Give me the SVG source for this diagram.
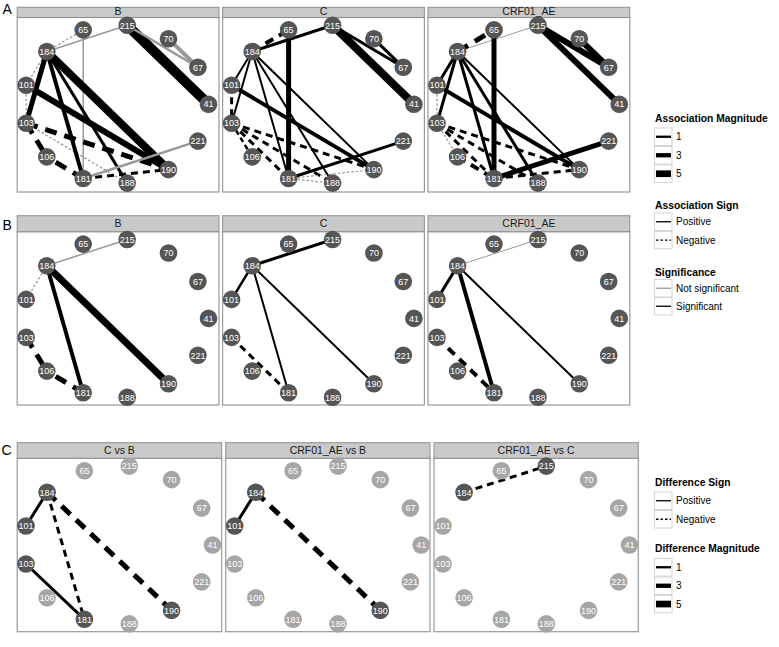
<svg xmlns="http://www.w3.org/2000/svg" width="779" height="647" viewBox="0 0 779 647">
<style>
.n circle{fill:#555}
.n.l circle{fill:#a6a6a6}
.n text{font-family:"Liberation Sans",Arial,sans-serif;font-size:9px;fill:#fff;text-anchor:middle}
.e line{fill:none;stroke-linecap:butt}
.k{stroke:#000}.g{stroke:#999}
.d1{stroke-dasharray:2.5 2}.d2{stroke-dasharray:5 3.5}.d3{stroke-dasharray:7 5}.d4{stroke-dasharray:9 6.5}.d5{stroke-dasharray:12 8}
.strip{fill:#c9c9c9;stroke:#8f8f8f;stroke-width:1}
.body{fill:#fff;stroke:#9a9a9a;stroke-width:1.2}
.st{font-family:"Liberation Sans",Arial,sans-serif;font-size:10.5px;text-anchor:middle;fill:#1a1a1a}
.tag{font-family:"Liberation Sans",Arial,sans-serif;font-size:14px;fill:#000}
.lt{font-family:"Liberation Sans",Arial,sans-serif;font-weight:bold;font-size:10.3px;fill:#000}
.ll{font-family:"Liberation Sans",Arial,sans-serif;font-size:10px;fill:#000}
.key{fill:#fff;stroke:#d4d4d4;stroke-width:1}
</style>
<rect width="779" height="647" fill="#fff"/>

<!-- tags -->
<text class="tag" x="2.5" y="13.5">A</text>
<text class="tag" x="2.5" y="229.5">B</text>
<text class="tag" x="1.5" y="455">C</text>

<g id="frames">
<rect class="body" x="17.2" y="17.5" width="201.8" height="174.5"/>
<rect class="strip" x="17.2" y="7.3" width="201.8" height="10.2"/>
<text class="st" x="118.1" y="15">B</text>
<rect class="body" x="222.6" y="17.5" width="201.8" height="174.5"/>
<rect class="strip" x="222.6" y="7.3" width="201.8" height="10.2"/>
<text class="st" x="323.5" y="15">C</text>
<rect class="body" x="428" y="17.5" width="201.8" height="174.5"/>
<rect class="strip" x="428" y="7.3" width="201.8" height="10.2"/>
<text class="st" x="528.9" y="15">CRF01_AE</text>

<rect class="body" x="17.2" y="231.7" width="201.8" height="173.3"/>
<rect class="strip" x="17.2" y="215.7" width="201.8" height="16"/>
<text class="st" x="118.1" y="227.3">B</text>
<rect class="body" x="222.6" y="231.7" width="201.8" height="173.3"/>
<rect class="strip" x="222.6" y="215.7" width="201.8" height="16"/>
<text class="st" x="323.5" y="227.3">C</text>
<rect class="body" x="428" y="231.7" width="201.8" height="173.3"/>
<rect class="strip" x="428" y="215.7" width="201.8" height="16"/>
<text class="st" x="528.9" y="227.3">CRF01_AE</text>

<rect class="body" x="17.2" y="458.3" width="204.5" height="173.4"/>
<rect class="strip" x="17.2" y="442.7" width="204.5" height="15.6"/>
<text class="st" x="119.4" y="454">C vs B</text>
<rect class="body" x="225.7" y="458.3" width="204.3" height="173.4"/>
<rect class="strip" x="225.7" y="442.7" width="204.3" height="15.6"/>
<text class="st" x="327.9" y="454">CRF01_AE vs B</text>
<rect class="body" x="434" y="458.3" width="204.3" height="173.4"/>
<rect class="strip" x="434" y="442.7" width="204.3" height="15.6"/>
<text class="st" x="536.1" y="454">CRF01_AE vs C</text>
</g>

<!-- Row A, panel B -->
<g transform="translate(116,104.2)">
<g id="edges-A-B" class="e">
<line class="g" stroke-width="1.5" x1="-69.2" y1="-52.7" x2="11.2" y2="-78.9"/>
<line class="g" stroke-width="1.5" x1="-32.8" y1="-74.3" x2="-32.8" y2="74.3"/>
<line class="k" stroke-width="10" x1="11.2" y1="-78.9" x2="92.5" y2="0"/>
<line class="g" stroke-width="2.5" x1="11.2" y1="-78.9" x2="81.9" y2="-36.9"/>
<line class="g" stroke-width="4" x1="52.5" y1="-65.4" x2="81.9" y2="-36.9"/>
<line class="g d1" stroke-width="1.3" x1="-69.2" y1="-52.7" x2="-32.8" y2="-74.3"/>
<line class="g d1" stroke-width="1.3" x1="-69.2" y1="-52.7" x2="-89.8" y2="-19"/>
<line class="g d1" stroke-width="1.3" x1="-89.8" y1="-19" x2="-89.8" y2="19"/>
<line class="g d1" stroke-width="1.3" x1="-89.8" y1="19" x2="11.2" y2="78.9"/>
<line class="k" stroke-width="5" x1="-69.2" y1="-52.7" x2="-89.8" y2="19"/>
<line class="k" stroke-width="4" x1="-69.2" y1="-52.7" x2="-32.8" y2="74.3"/>
<line class="k" stroke-width="3" x1="-69.2" y1="-52.7" x2="11.2" y2="78.9"/>
<line class="k" stroke-width="8" x1="-69.2" y1="-52.7" x2="52.5" y2="65.4"/>
<line class="k" stroke-width="6" x1="-89.8" y1="-19" x2="52.5" y2="65.4"/>
<line class="k d5" stroke-width="5" x1="-89.8" y1="19" x2="52.5" y2="65.4"/>
<line class="k d5" stroke-width="5" x1="-89.8" y1="19" x2="-69.2" y2="52.7"/>
<line class="k d5" stroke-width="5" x1="-32.8" y1="74.3" x2="-69.2" y2="52.7"/>
<line class="k d3" stroke-width="3" x1="-32.8" y1="74.3" x2="52.5" y2="65.4"/>
<line class="g" stroke-width="2.5" x1="-32.8" y1="74.3" x2="81.9" y2="36.9"/>
</g>
<g id="A-B-41" class="n" transform="translate(92.5,0)"><circle r="8.8"/><text y="3.2">41</text></g>
<g id="A-B-67" class="n" transform="translate(81.9,-36.9)"><circle r="8.8"/><text y="3.2">67</text></g>
<g id="A-B-70" class="n" transform="translate(52.5,-65.4)"><circle r="8.8"/><text y="3.2">70</text></g>
<g id="A-B-215" class="n" transform="translate(11.2,-78.9)"><circle r="8.8"/><text y="3.2">215</text></g>
<g id="A-B-65" class="n" transform="translate(-32.8,-74.3)"><circle r="8.8"/><text y="3.2">65</text></g>
<g id="A-B-184" class="n" transform="translate(-69.2,-52.7)"><circle r="8.8"/><text y="3.2">184</text></g>
<g id="A-B-101" class="n" transform="translate(-89.8,-19)"><circle r="8.8"/><text y="3.2">101</text></g>
<g id="A-B-103" class="n" transform="translate(-89.8,19)"><circle r="8.8"/><text y="3.2">103</text></g>
<g id="A-B-106" class="n" transform="translate(-69.2,52.7)"><circle r="8.8"/><text y="3.2">106</text></g>
<g id="A-B-181" class="n" transform="translate(-32.8,74.3)"><circle r="8.8"/><text y="3.2">181</text></g>
<g id="A-B-188" class="n" transform="translate(11.2,78.9)"><circle r="8.8"/><text y="3.2">188</text></g>
<g id="A-B-190" class="n" transform="translate(52.5,65.4)"><circle r="8.8"/><text y="3.2">190</text></g>
<g id="A-B-221" class="n" transform="translate(81.9,36.9)"><circle r="8.8"/><text y="3.2">221</text></g>
</g>

<!-- Row A, panel C -->
<g transform="translate(321.4,104.2)">
<g id="edges-A-C" class="e">
<line class="k" stroke-width="3" x1="-69.2" y1="-52.7" x2="11.2" y2="-78.9"/>
<line class="k d4" stroke-width="4" x1="-69.2" y1="-52.7" x2="-32.8" y2="-74.3"/>
<line class="k" stroke-width="5" x1="-32.8" y1="-74.3" x2="-32.8" y2="74.3"/>
<line class="k" stroke-width="8" x1="11.2" y1="-78.9" x2="92.5" y2="0"/>
<line class="k" stroke-width="3" x1="11.2" y1="-78.9" x2="81.9" y2="-36.9"/>
<line class="k" stroke-width="3" x1="52.5" y1="-65.4" x2="81.9" y2="-36.9"/>
<line class="k" stroke-width="2" x1="-69.2" y1="-52.7" x2="-89.8" y2="-19"/>
<line class="k" stroke-width="2" x1="-69.2" y1="-52.7" x2="-89.8" y2="19"/>
<line class="k" stroke-width="2" x1="-69.2" y1="-52.7" x2="-32.8" y2="74.3"/>
<line class="k" stroke-width="2" x1="-69.2" y1="-52.7" x2="11.2" y2="78.9"/>
<line class="k" stroke-width="2" x1="-69.2" y1="-52.7" x2="52.5" y2="65.4"/>
<line class="k" stroke-width="4" x1="-89.8" y1="-19" x2="52.5" y2="65.4"/>
<line class="k d3" stroke-width="3" x1="-89.8" y1="-19" x2="-89.8" y2="19"/>
<line class="k d2" stroke-width="2.5" x1="-89.8" y1="19" x2="-69.2" y2="52.7"/>
<line class="k d3" stroke-width="3" x1="-89.8" y1="19" x2="-32.8" y2="74.3"/>
<line class="k d3" stroke-width="3" x1="-89.8" y1="19" x2="11.2" y2="78.9"/>
<line class="k d3" stroke-width="3" x1="-89.8" y1="19" x2="52.5" y2="65.4"/>
<line class="k" stroke-width="3" x1="-32.8" y1="74.3" x2="81.9" y2="36.9"/>
<line class="g d1" stroke-width="1.2" x1="-32.8" y1="74.3" x2="52.5" y2="65.4"/>
<line class="g d1" stroke-width="1.2" x1="-32.8" y1="74.3" x2="11.2" y2="78.9"/>
</g>
<g id="A-C-41" class="n" transform="translate(92.5,0)"><circle r="8.8"/><text y="3.2">41</text></g>
<g id="A-C-67" class="n" transform="translate(81.9,-36.9)"><circle r="8.8"/><text y="3.2">67</text></g>
<g id="A-C-70" class="n" transform="translate(52.5,-65.4)"><circle r="8.8"/><text y="3.2">70</text></g>
<g id="A-C-215" class="n" transform="translate(11.2,-78.9)"><circle r="8.8"/><text y="3.2">215</text></g>
<g id="A-C-65" class="n" transform="translate(-32.8,-74.3)"><circle r="8.8"/><text y="3.2">65</text></g>
<g id="A-C-184" class="n" transform="translate(-69.2,-52.7)"><circle r="8.8"/><text y="3.2">184</text></g>
<g id="A-C-101" class="n" transform="translate(-89.8,-19)"><circle r="8.8"/><text y="3.2">101</text></g>
<g id="A-C-103" class="n" transform="translate(-89.8,19)"><circle r="8.8"/><text y="3.2">103</text></g>
<g id="A-C-106" class="n" transform="translate(-69.2,52.7)"><circle r="8.8"/><text y="3.2">106</text></g>
<g id="A-C-181" class="n" transform="translate(-32.8,74.3)"><circle r="8.8"/><text y="3.2">181</text></g>
<g id="A-C-188" class="n" transform="translate(11.2,78.9)"><circle r="8.8"/><text y="3.2">188</text></g>
<g id="A-C-190" class="n" transform="translate(52.5,65.4)"><circle r="8.8"/><text y="3.2">190</text></g>
<g id="A-C-221" class="n" transform="translate(81.9,36.9)"><circle r="8.8"/><text y="3.2">221</text></g>
</g>

<!-- Row A, panel CRF01_AE -->
<g transform="translate(526.8,104.2)">
<g id="edges-A-AE" class="e">
<line class="g" stroke-width="1" x1="-69.2" y1="-52.7" x2="11.2" y2="-78.9"/>
<line class="k d5" stroke-width="5" x1="-69.2" y1="-52.7" x2="-32.8" y2="-74.3"/>
<line class="k" stroke-width="5" x1="-32.8" y1="-74.3" x2="-32.8" y2="74.3"/>
<line class="k" stroke-width="6" x1="11.2" y1="-78.9" x2="92.5" y2="0"/>
<line class="k" stroke-width="6" x1="11.2" y1="-78.9" x2="81.9" y2="-36.9"/>
<line class="k" stroke-width="6" x1="52.5" y1="-65.4" x2="81.9" y2="-36.9"/>
<line class="k" stroke-width="3" x1="-69.2" y1="-52.7" x2="-89.8" y2="-19"/>
<line class="k" stroke-width="3" x1="-69.2" y1="-52.7" x2="-89.8" y2="19"/>
<line class="k" stroke-width="3" x1="-69.2" y1="-52.7" x2="-32.8" y2="74.3"/>
<line class="k" stroke-width="3" x1="-69.2" y1="-52.7" x2="11.2" y2="78.9"/>
<line class="k" stroke-width="2" x1="-69.2" y1="-52.7" x2="52.5" y2="65.4"/>
<line class="k" stroke-width="4" x1="-89.8" y1="-19" x2="52.5" y2="65.4"/>
<line class="g d1" stroke-width="1.3" x1="-89.8" y1="-19" x2="-89.8" y2="19"/>
<line class="g d1" stroke-width="1.3" x1="-89.8" y1="19" x2="-69.2" y2="52.7"/>
<line class="k d3" stroke-width="3" x1="-89.8" y1="19" x2="-32.8" y2="74.3"/>
<line class="k d3" stroke-width="3" x1="-89.8" y1="19" x2="11.2" y2="78.9"/>
<line class="k d3" stroke-width="3" x1="-89.8" y1="19" x2="52.5" y2="65.4"/>
<line class="k d4" stroke-width="4" x1="-69.2" y1="52.7" x2="-32.8" y2="74.3"/>
<line class="k" stroke-width="5" x1="-32.8" y1="74.3" x2="81.9" y2="36.9"/>
<line class="k d3" stroke-width="3" x1="-32.8" y1="74.3" x2="52.5" y2="65.4"/>
</g>
<g id="A-AE-41" class="n" transform="translate(92.5,0)"><circle r="8.8"/><text y="3.2">41</text></g>
<g id="A-AE-67" class="n" transform="translate(81.9,-36.9)"><circle r="8.8"/><text y="3.2">67</text></g>
<g id="A-AE-70" class="n" transform="translate(52.5,-65.4)"><circle r="8.8"/><text y="3.2">70</text></g>
<g id="A-AE-215" class="n" transform="translate(11.2,-78.9)"><circle r="8.8"/><text y="3.2">215</text></g>
<g id="A-AE-65" class="n" transform="translate(-32.8,-74.3)"><circle r="8.8"/><text y="3.2">65</text></g>
<g id="A-AE-184" class="n" transform="translate(-69.2,-52.7)"><circle r="8.8"/><text y="3.2">184</text></g>
<g id="A-AE-101" class="n" transform="translate(-89.8,-19)"><circle r="8.8"/><text y="3.2">101</text></g>
<g id="A-AE-103" class="n" transform="translate(-89.8,19)"><circle r="8.8"/><text y="3.2">103</text></g>
<g id="A-AE-106" class="n" transform="translate(-69.2,52.7)"><circle r="8.8"/><text y="3.2">106</text></g>
<g id="A-AE-181" class="n" transform="translate(-32.8,74.3)"><circle r="8.8"/><text y="3.2">181</text></g>
<g id="A-AE-188" class="n" transform="translate(11.2,78.9)"><circle r="8.8"/><text y="3.2">188</text></g>
<g id="A-AE-190" class="n" transform="translate(52.5,65.4)"><circle r="8.8"/><text y="3.2">190</text></g>
<g id="A-AE-221" class="n" transform="translate(81.9,36.9)"><circle r="8.8"/><text y="3.2">221</text></g>
</g>

<!-- Row B, panel B -->
<g transform="translate(116,318.4)">
<g id="edges-B-B" class="e">
<line class="g" stroke-width="1.5" x1="-69.2" y1="-52.7" x2="11.2" y2="-78.9"/>
<line class="g d1" stroke-width="1.3" x1="-69.2" y1="-52.7" x2="-89.8" y2="-19"/>
<line class="k" stroke-width="4" x1="-69.2" y1="-52.7" x2="-32.8" y2="74.3"/>
<line class="k" stroke-width="7" x1="-69.2" y1="-52.7" x2="52.5" y2="65.4"/>
<line class="k d5" stroke-width="5" x1="-89.8" y1="19" x2="-69.2" y2="52.7"/>
<line class="k d5" stroke-width="5" x1="-32.8" y1="74.3" x2="-69.2" y2="52.7"/>
</g>
<g id="B-B-41" class="n" transform="translate(92.5,0)"><circle r="8.8"/><text y="3.2">41</text></g>
<g id="B-B-67" class="n" transform="translate(81.9,-36.9)"><circle r="8.8"/><text y="3.2">67</text></g>
<g id="B-B-70" class="n" transform="translate(52.5,-65.4)"><circle r="8.8"/><text y="3.2">70</text></g>
<g id="B-B-215" class="n" transform="translate(11.2,-78.9)"><circle r="8.8"/><text y="3.2">215</text></g>
<g id="B-B-65" class="n" transform="translate(-32.8,-74.3)"><circle r="8.8"/><text y="3.2">65</text></g>
<g id="B-B-184" class="n" transform="translate(-69.2,-52.7)"><circle r="8.8"/><text y="3.2">184</text></g>
<g id="B-B-101" class="n" transform="translate(-89.8,-19)"><circle r="8.8"/><text y="3.2">101</text></g>
<g id="B-B-103" class="n" transform="translate(-89.8,19)"><circle r="8.8"/><text y="3.2">103</text></g>
<g id="B-B-106" class="n" transform="translate(-69.2,52.7)"><circle r="8.8"/><text y="3.2">106</text></g>
<g id="B-B-181" class="n" transform="translate(-32.8,74.3)"><circle r="8.8"/><text y="3.2">181</text></g>
<g id="B-B-188" class="n" transform="translate(11.2,78.9)"><circle r="8.8"/><text y="3.2">188</text></g>
<g id="B-B-190" class="n" transform="translate(52.5,65.4)"><circle r="8.8"/><text y="3.2">190</text></g>
<g id="B-B-221" class="n" transform="translate(81.9,36.9)"><circle r="8.8"/><text y="3.2">221</text></g>
</g>

<!-- Row B, panel C -->
<g transform="translate(321.4,318.4)">
<g id="edges-B-C" class="e">
<line class="k" stroke-width="3" x1="-69.2" y1="-52.7" x2="11.2" y2="-78.9"/>
<line class="k" stroke-width="2.5" x1="-69.2" y1="-52.7" x2="-89.8" y2="-19"/>
<line class="k" stroke-width="2" x1="-69.2" y1="-52.7" x2="-32.8" y2="74.3"/>
<line class="k" stroke-width="2" x1="-69.2" y1="-52.7" x2="52.5" y2="65.4"/>
<line class="k d3" stroke-width="3" x1="-89.8" y1="19" x2="-32.8" y2="74.3"/>
</g>
<g id="B-C-41" class="n" transform="translate(92.5,0)"><circle r="8.8"/><text y="3.2">41</text></g>
<g id="B-C-67" class="n" transform="translate(81.9,-36.9)"><circle r="8.8"/><text y="3.2">67</text></g>
<g id="B-C-70" class="n" transform="translate(52.5,-65.4)"><circle r="8.8"/><text y="3.2">70</text></g>
<g id="B-C-215" class="n" transform="translate(11.2,-78.9)"><circle r="8.8"/><text y="3.2">215</text></g>
<g id="B-C-65" class="n" transform="translate(-32.8,-74.3)"><circle r="8.8"/><text y="3.2">65</text></g>
<g id="B-C-184" class="n" transform="translate(-69.2,-52.7)"><circle r="8.8"/><text y="3.2">184</text></g>
<g id="B-C-101" class="n" transform="translate(-89.8,-19)"><circle r="8.8"/><text y="3.2">101</text></g>
<g id="B-C-103" class="n" transform="translate(-89.8,19)"><circle r="8.8"/><text y="3.2">103</text></g>
<g id="B-C-106" class="n" transform="translate(-69.2,52.7)"><circle r="8.8"/><text y="3.2">106</text></g>
<g id="B-C-181" class="n" transform="translate(-32.8,74.3)"><circle r="8.8"/><text y="3.2">181</text></g>
<g id="B-C-188" class="n" transform="translate(11.2,78.9)"><circle r="8.8"/><text y="3.2">188</text></g>
<g id="B-C-190" class="n" transform="translate(52.5,65.4)"><circle r="8.8"/><text y="3.2">190</text></g>
<g id="B-C-221" class="n" transform="translate(81.9,36.9)"><circle r="8.8"/><text y="3.2">221</text></g>
</g>

<!-- Row B, panel CRF01_AE -->
<g transform="translate(526.8,318.4)">
<g id="edges-B-AE" class="e">
<line class="g" stroke-width="1" x1="-69.2" y1="-52.7" x2="11.2" y2="-78.9"/>
<line class="k" stroke-width="3" x1="-69.2" y1="-52.7" x2="-89.8" y2="-19"/>
<line class="k" stroke-width="4" x1="-69.2" y1="-52.7" x2="-32.8" y2="74.3"/>
<line class="k" stroke-width="2" x1="-69.2" y1="-52.7" x2="52.5" y2="65.4"/>
<line class="k d4" stroke-width="4" x1="-89.8" y1="19" x2="-32.8" y2="74.3"/>
</g>
<g id="B-AE-41" class="n" transform="translate(92.5,0)"><circle r="8.8"/><text y="3.2">41</text></g>
<g id="B-AE-67" class="n" transform="translate(81.9,-36.9)"><circle r="8.8"/><text y="3.2">67</text></g>
<g id="B-AE-70" class="n" transform="translate(52.5,-65.4)"><circle r="8.8"/><text y="3.2">70</text></g>
<g id="B-AE-215" class="n" transform="translate(11.2,-78.9)"><circle r="8.8"/><text y="3.2">215</text></g>
<g id="B-AE-65" class="n" transform="translate(-32.8,-74.3)"><circle r="8.8"/><text y="3.2">65</text></g>
<g id="B-AE-184" class="n" transform="translate(-69.2,-52.7)"><circle r="8.8"/><text y="3.2">184</text></g>
<g id="B-AE-101" class="n" transform="translate(-89.8,-19)"><circle r="8.8"/><text y="3.2">101</text></g>
<g id="B-AE-103" class="n" transform="translate(-89.8,19)"><circle r="8.8"/><text y="3.2">103</text></g>
<g id="B-AE-106" class="n" transform="translate(-69.2,52.7)"><circle r="8.8"/><text y="3.2">106</text></g>
<g id="B-AE-181" class="n" transform="translate(-32.8,74.3)"><circle r="8.8"/><text y="3.2">181</text></g>
<g id="B-AE-188" class="n" transform="translate(11.2,78.9)"><circle r="8.8"/><text y="3.2">188</text></g>
<g id="B-AE-190" class="n" transform="translate(52.5,65.4)"><circle r="8.8"/><text y="3.2">190</text></g>
<g id="B-AE-221" class="n" transform="translate(81.9,36.9)"><circle r="8.8"/><text y="3.2">221</text></g>
</g>

<!-- Row C, C vs B -->
<g transform="translate(117.9,545)">
<g id="edges-C-CB" class="e">
<line class="k" stroke-width="3" x1="-70.8" y1="-52.7" x2="-91.9" y2="-19"/>
<line class="k" stroke-width="3" x1="-91.9" y1="19" x2="-33.5" y2="74.3"/>
<line class="k d3" stroke-width="3" x1="-70.8" y1="-52.7" x2="-33.5" y2="74.3"/>
<line class="k d5" stroke-width="5" x1="-70.8" y1="-52.7" x2="53.7" y2="65.4"/>
</g>
<g id="C-CB-41" class="n l" transform="translate(94.6,0)"><circle r="8.8"/><text y="3.2">41</text></g>
<g id="C-CB-67" class="n l" transform="translate(83.8,-36.9)"><circle r="8.8"/><text y="3.2">67</text></g>
<g id="C-CB-70" class="n l" transform="translate(53.7,-65.4)"><circle r="8.8"/><text y="3.2">70</text></g>
<g id="C-CB-215" class="n l" transform="translate(11.4,-78.9)"><circle r="8.8"/><text y="3.2">215</text></g>
<g id="C-CB-65" class="n l" transform="translate(-33.5,-74.3)"><circle r="8.8"/><text y="3.2">65</text></g>
<g id="C-CB-184" class="n" transform="translate(-70.8,-52.7)"><circle r="8.8"/><text y="3.2">184</text></g>
<g id="C-CB-101" class="n" transform="translate(-91.9,-19)"><circle r="8.8"/><text y="3.2">101</text></g>
<g id="C-CB-103" class="n" transform="translate(-91.9,19)"><circle r="8.8"/><text y="3.2">103</text></g>
<g id="C-CB-106" class="n l" transform="translate(-70.8,52.7)"><circle r="8.8"/><text y="3.2">106</text></g>
<g id="C-CB-181" class="n" transform="translate(-33.5,74.3)"><circle r="8.8"/><text y="3.2">181</text></g>
<g id="C-CB-188" class="n l" transform="translate(11.4,78.9)"><circle r="8.8"/><text y="3.2">188</text></g>
<g id="C-CB-190" class="n" transform="translate(53.7,65.4)"><circle r="8.8"/><text y="3.2">190</text></g>
<g id="C-CB-221" class="n l" transform="translate(83.8,36.9)"><circle r="8.8"/><text y="3.2">221</text></g>
</g>

<!-- Row C, CRF01_AE vs B -->
<g transform="translate(326.6,545)">
<g id="edges-C-AEB" class="e">
<line class="k" stroke-width="3" x1="-70.8" y1="-52.7" x2="-91.9" y2="-19"/>
<line class="k d5" stroke-width="5" x1="-70.8" y1="-52.7" x2="53.7" y2="65.4"/>
</g>
<g id="C-AEB-41" class="n l" transform="translate(94.6,0)"><circle r="8.8"/><text y="3.2">41</text></g>
<g id="C-AEB-67" class="n l" transform="translate(83.8,-36.9)"><circle r="8.8"/><text y="3.2">67</text></g>
<g id="C-AEB-70" class="n l" transform="translate(53.7,-65.4)"><circle r="8.8"/><text y="3.2">70</text></g>
<g id="C-AEB-215" class="n l" transform="translate(11.4,-78.9)"><circle r="8.8"/><text y="3.2">215</text></g>
<g id="C-AEB-65" class="n l" transform="translate(-33.5,-74.3)"><circle r="8.8"/><text y="3.2">65</text></g>
<g id="C-AEB-184" class="n" transform="translate(-70.8,-52.7)"><circle r="8.8"/><text y="3.2">184</text></g>
<g id="C-AEB-101" class="n" transform="translate(-91.9,-19)"><circle r="8.8"/><text y="3.2">101</text></g>
<g id="C-AEB-103" class="n l" transform="translate(-91.9,19)"><circle r="8.8"/><text y="3.2">103</text></g>
<g id="C-AEB-106" class="n l" transform="translate(-70.8,52.7)"><circle r="8.8"/><text y="3.2">106</text></g>
<g id="C-AEB-181" class="n l" transform="translate(-33.5,74.3)"><circle r="8.8"/><text y="3.2">181</text></g>
<g id="C-AEB-188" class="n l" transform="translate(11.4,78.9)"><circle r="8.8"/><text y="3.2">188</text></g>
<g id="C-AEB-190" class="n" transform="translate(53.7,65.4)"><circle r="8.8"/><text y="3.2">190</text></g>
<g id="C-AEB-221" class="n l" transform="translate(83.8,36.9)"><circle r="8.8"/><text y="3.2">221</text></g>
</g>

<!-- Row C, CRF01_AE vs C -->
<g transform="translate(534.9,545)">
<g id="edges-C-AEC" class="e">
<line class="k d3" stroke-width="3" x1="-70.8" y1="-52.7" x2="11.4" y2="-78.9"/>
</g>
<g id="C-AEC-41" class="n l" transform="translate(94.6,0)"><circle r="8.8"/><text y="3.2">41</text></g>
<g id="C-AEC-67" class="n l" transform="translate(83.8,-36.9)"><circle r="8.8"/><text y="3.2">67</text></g>
<g id="C-AEC-70" class="n l" transform="translate(53.7,-65.4)"><circle r="8.8"/><text y="3.2">70</text></g>
<g id="C-AEC-215" class="n" transform="translate(11.4,-78.9)"><circle r="8.8"/><text y="3.2">215</text></g>
<g id="C-AEC-65" class="n l" transform="translate(-33.5,-74.3)"><circle r="8.8"/><text y="3.2">65</text></g>
<g id="C-AEC-184" class="n" transform="translate(-70.8,-52.7)"><circle r="8.8"/><text y="3.2">184</text></g>
<g id="C-AEC-101" class="n l" transform="translate(-91.9,-19)"><circle r="8.8"/><text y="3.2">101</text></g>
<g id="C-AEC-103" class="n l" transform="translate(-91.9,19)"><circle r="8.8"/><text y="3.2">103</text></g>
<g id="C-AEC-106" class="n l" transform="translate(-70.8,52.7)"><circle r="8.8"/><text y="3.2">106</text></g>
<g id="C-AEC-181" class="n l" transform="translate(-33.5,74.3)"><circle r="8.8"/><text y="3.2">181</text></g>
<g id="C-AEC-188" class="n l" transform="translate(11.4,78.9)"><circle r="8.8"/><text y="3.2">188</text></g>
<g id="C-AEC-190" class="n l" transform="translate(53.7,65.4)"><circle r="8.8"/><text y="3.2">190</text></g>
<g id="C-AEC-221" class="n l" transform="translate(83.8,36.9)"><circle r="8.8"/><text y="3.2">221</text></g>
</g>

<!-- Legends -->
<g id="legend-assoc-mag">
<text class="lt" x="655" y="122.4">Association Magnitude</text>
<rect class="key" x="654.5" y="128" width="17.5" height="17.5"/>
<rect class="key" x="654.5" y="146.5" width="17.5" height="17.5"/>
<rect class="key" x="654.5" y="165" width="17.5" height="17.5"/>
<line x1="656" y1="136.75" x2="671" y2="136.75" stroke="#000" stroke-width="2.3"/>
<line x1="656" y1="155.25" x2="671" y2="155.25" stroke="#000" stroke-width="4.3"/>
<line x1="656" y1="173.75" x2="671" y2="173.75" stroke="#000" stroke-width="6.7"/>
<text class="ll" x="676" y="140.3">1</text>
<text class="ll" x="676" y="158.8">3</text>
<text class="ll" x="676" y="177.3">5</text>
</g>
<g id="legend-assoc-sign">
<text class="lt" x="655" y="209.1">Association Sign</text>
<rect class="key" x="654.5" y="213" width="17.5" height="17.5"/>
<rect class="key" x="654.5" y="231.3" width="17.5" height="17.5"/>
<line x1="656" y1="221.75" x2="671" y2="221.75" stroke="#000" stroke-width="1.3"/>
<line x1="656" y1="240.05" x2="671" y2="240.05" stroke="#000" stroke-width="1.3" stroke-dasharray="2.5 2"/>
<text class="ll" x="676" y="225.3">Positive</text>
<text class="ll" x="676" y="243.6">Negative</text>
</g>
<g id="legend-signif">
<text class="lt" x="655" y="275.7">Significance</text>
<rect class="key" x="654.5" y="279.5" width="17.5" height="17.5"/>
<rect class="key" x="654.5" y="297.5" width="17.5" height="17.5"/>
<line x1="656" y1="288.25" x2="671" y2="288.25" stroke="#999" stroke-width="1.3"/>
<line x1="656" y1="306.25" x2="671" y2="306.25" stroke="#000" stroke-width="1.3"/>
<text class="ll" x="676" y="291.8">Not significant</text>
<text class="ll" x="676" y="309.8">Significant</text>
</g>
<g id="legend-diff-sign">
<text class="lt" x="655" y="485.7">Difference Sign</text>
<rect class="key" x="654.5" y="492" width="17.5" height="17.5"/>
<rect class="key" x="654.5" y="510.5" width="17.5" height="17.5"/>
<line x1="656" y1="500.75" x2="671" y2="500.75" stroke="#000" stroke-width="1.3"/>
<line x1="656" y1="519.25" x2="671" y2="519.25" stroke="#000" stroke-width="1.3" stroke-dasharray="2.5 2"/>
<text class="ll" x="676" y="504.3">Positive</text>
<text class="ll" x="676" y="522.8">Negative</text>
</g>
<g id="legend-diff-mag">
<text class="lt" x="655" y="552.4">Difference Magnitude</text>
<rect class="key" x="654.5" y="558.5" width="17.5" height="17.5"/>
<rect class="key" x="654.5" y="577" width="17.5" height="17.5"/>
<rect class="key" x="654.5" y="595.3" width="17.5" height="17.5"/>
<line x1="656" y1="567.25" x2="671" y2="567.25" stroke="#000" stroke-width="2.3"/>
<line x1="656" y1="585.75" x2="671" y2="585.75" stroke="#000" stroke-width="4.3"/>
<line x1="656" y1="604.05" x2="671" y2="604.05" stroke="#000" stroke-width="6.7"/>
<text class="ll" x="676" y="570.8">1</text>
<text class="ll" x="676" y="589.3">3</text>
<text class="ll" x="676" y="607.6">5</text>
</g>
</svg>
